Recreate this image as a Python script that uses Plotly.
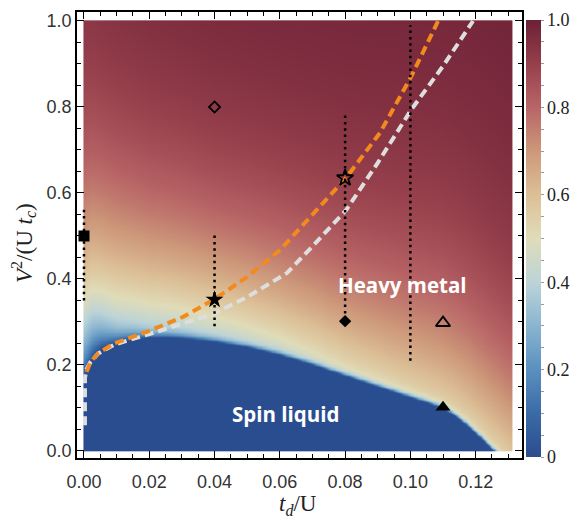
import numpy as np
import plotly.graph_objects as go

# ---------------- data ----------------
# phase boundary (top of spin-liquid region)
boundary_x = [0.0, 0.001, 0.0025, 0.005, 0.01, 0.015, 0.02, 0.025, 0.03, 0.04, 0.05, 0.06,
              0.07, 0.08, 0.09, 0.10, 0.105, 0.11, 0.1125, 0.115, 0.1175, 0.12, 0.1225,
              0.1255, 0.14]
boundary_y = [0.17, 0.19, 0.215, 0.238, 0.254, 0.261, 0.264, 0.265, 0.263, 0.255, 0.242, 0.224,
              0.201, 0.175, 0.15, 0.125, 0.113, 0.099, 0.087, 0.074, 0.058, 0.041, 0.023,
              0.0, -0.11]
# shape of the order parameter above the boundary
param_x = [0.0, 0.005, 0.01, 0.02, 0.04, 0.06, 0.08, 0.11, 0.135]
jump = [0.15, 0.24, 0.30, 0.34, 0.38, 0.42, 0.47, 0.52, 0.52]
edge = [0.07, 0.035, 0.018, 0.01, 0.007, 0.006, 0.006, 0.006, 0.006]
decay = [0.34, 0.32, 0.31, 0.29, 0.27, 0.27, 0.28, 0.31, 0.31]

# dashed crossover lines
orange_x = [0.0008, 0.002, 0.0044, 0.0095, 0.0192, 0.0304, 0.040, 0.050, 0.060, 0.0702,
            0.0803, 0.0907, 0.1002, 0.1085]
orange_y = [0.184, 0.207, 0.228, 0.251, 0.277, 0.312, 0.353, 0.405, 0.467, 0.553,
            0.635, 0.74, 0.87, 1.0]
white_x = [0.0003, 0.0003, 0.0008, 0.002, 0.0044, 0.0095, 0.0192, 0.030, 0.040, 0.050,
           0.0622, 0.0705, 0.0803, 0.090, 0.1002, 0.110, 0.1192]
white_y = [0.06, 0.17, 0.19, 0.207, 0.227, 0.248, 0.27, 0.295, 0.32, 0.358,
           0.414, 0.48, 0.56, 0.67, 0.793, 0.895, 1.0]

# dotted vertical cuts
dot_x = [0.0, 0.04, 0.08, 0.10]
dot_lo = [0.35, 0.29, 0.32, 0.21]
dot_hi = [0.57, 0.51, 0.78, 0.99]

# markers: square, open diamond, filled star, open star, filled diamond, open triangle, filled triangle
mk_x = [0.0, 0.04, 0.04, 0.08, 0.08, 0.11, 0.11]
mk_y = [0.50, 0.80, 0.352, 0.635, 0.302, 0.298, 0.102]

x_ticks = [0.0, 0.02, 0.04, 0.06, 0.08, 0.10, 0.12]
x_ticklabels = ["0.00", "0.02", "0.04", "0.06", "0.08", "0.10", "0.12"]
y_ticks = [0.0, 0.2, 0.4, 0.6, 0.8, 1.0]
y_ticklabels = ["0.0", "0.2", "0.4", "0.6", "0.8", "1.0"]
cb_ticks = [0.0, 0.2, 0.4, 0.6, 0.8, 1.0]
cb_ticklabels = ["0", "0.2", "0.4", "0.6", "0.8", "1.0"]

cs_pos = [0.0, 0.1, 0.2, 0.3, 0.4, 0.5, 0.6, 0.7, 0.8, 0.9, 1.0]
cs_col = ["#2a4d8f", "#3b6aa6", "#5a90bf", "#8ab5d0", "#bcd4d8", "#e0dcb8",
          "#dcbf96", "#cd987a", "#b86566", "#963f4c", "#6c2035"]

# ---------------- field ----------------
xs = np.linspace(0, 0.1312, 400)
ys = np.linspace(0, 1, 331)
X, Y = np.meshgrid(xs, ys)
b = np.interp(xs, boundary_x, boundary_y)[None, :]
J = np.interp(xs, param_x, jump)[None, :]
E = np.interp(xs, param_x, edge)[None, :]
L = np.interp(xs, param_x, decay)[None, :]
d = np.clip(Y - b, 0, None)
Z = J * (1 - np.exp(-d / E)) + (1 - J) * (1 - np.exp(-d / L))
Z = np.round(np.clip(Z, 0, 1), 3)

fig = go.Figure()

# colorbar minor ticks
cb_all = [round(i * 0.05, 2) for i in range(21)]
cb_text = []
for v in cb_all:
    lab = ""
    for tv, tl in zip(cb_ticks, cb_ticklabels):
        if abs(tv - v) < 1e-9:
            lab = tl
    cb_text.append(lab)

fig.add_trace(go.Heatmap(
    x=xs, y=ys, z=Z, zmin=0, zmax=1, zsmooth="best",
    colorscale=[[p, c] for p, c in zip(cs_pos, cs_col)],
    hoverinfo="skip",
    colorbar=dict(
        x=1.009, xanchor="left", xref="paper",
        y=(458 - 20) / 446, yanchor="top",
        len=437, lenmode="pixels", thickness=15, thicknessmode="pixels",
        ypad=0, xpad=0, outlinewidth=0,
        tickvals=cb_all, ticktext=cb_text,
        ticks="outside", ticklen=3, tickwidth=1, tickcolor="#9a9a9a",
        tickfont=dict(family="Liberation Serif", size=18, color="#222"),
    ),
))

fig.add_trace(go.Scatter(x=white_x, y=white_y, mode="lines", hoverinfo="skip",
                         line=dict(color="#dedede", width=4, dash="9px,5px")))
fig.add_trace(go.Scatter(x=orange_x, y=orange_y, mode="lines", hoverinfo="skip",
                         line=dict(color="#f28a1e", width=4, dash="9px,5px")))

for xv, lo, hi in zip(dot_x, dot_lo, dot_hi):
    fig.add_trace(go.Scatter(x=[xv, xv], y=[lo, hi], mode="lines", hoverinfo="skip",
                             line=dict(color="black", width=2.5, dash="2.5px,3.8px")))

styles = [
    dict(symbol="square", size=11, color="black"),
    dict(symbol="diamond-open", size=8.5, color="black", line=dict(width=1.8, color="black")),
    dict(symbol="star", size=13.5, color="black"),
    dict(symbol="star-open", size=12.5, color="black", line=dict(width=1.8, color="black")),
    dict(symbol="diamond", size=9.5, color="black"),
    dict(symbol="triangle-up-open", size=12.5, color="black", line=dict(width=1.8, color="black")),
    dict(symbol="triangle-up", size=13, color="black"),
]
for i, st in enumerate(styles):
    fig.add_trace(go.Scatter(x=[mk_x[i]], y=[mk_y[i]], mode="markers", marker=st,
                             hoverinfo="skip"))

fig.add_annotation(x=0.0977, y=0.386, xref="x", yref="y", text="<b>Heavy metal</b>",
                   showarrow=False, font=dict(family="Open Sans", size=20.5, color="white"))
fig.add_annotation(x=0.0619, y=0.086, xref="x", yref="y", text="<b>Spin liquid</b>",
                   showarrow=False, font=dict(family="Open Sans", size=20.5, color="white"))

# axis titles
fig.add_annotation(x=(23 - 77) / 445, y=(458 - 243) / 446, xref="paper", yref="paper",
                   xanchor="center", yanchor="middle",
                   text="<i>V</i><sup>2</sup>/(U <i>t</i><sub><i>c</i></sub>)",
                   textangle=-90, showarrow=False,
                   font=dict(family="Liberation Serif", size=23, color="#222"))
fig.add_annotation(x=(298 - 77) / 445, y=(458 - 505) / 446, xref="paper", yref="paper",
                   xanchor="center", yanchor="middle",
                   text="<i>t</i><sub><i>d</i></sub>/U", showarrow=False,
                   font=dict(family="Liberation Serif", size=23, color="#222"))

axis_common = dict(
    showline=True, linecolor="black", linewidth=1.5, mirror="ticks",
    ticks="inside", ticklen=7, tickwidth=1.2, tickcolor="black",
    showgrid=False, zeroline=False,
    tickfont=dict(family="Liberation Sans", size=18, color="#333"),
)
fig.update_xaxes(range=[-0.00214, 0.1342], tickvals=x_ticks, ticktext=x_ticklabels,
                 ticklabelstandoff=7,
                 minor=dict(dtick=0.005, tick0=0, ticks="inside", ticklen=4,
                            tickwidth=1, tickcolor="black", showgrid=False),
                 **axis_common)
fig.update_yaxes(range=[-0.0163, 1.0209], tickvals=y_ticks, ticktext=y_ticklabels,
                 minor=dict(dtick=0.05, tick0=0, ticks="inside", ticklen=4,
                            tickwidth=1, tickcolor="black", showgrid=False),
                 **axis_common)

fig.update_layout(
    width=570, height=521,
    margin=dict(l=77, r=48, t=12, b=63, autoexpand=False),
    paper_bgcolor="white", plot_bgcolor="white",
    showlegend=False,
)

fig.write_html("out.html")
